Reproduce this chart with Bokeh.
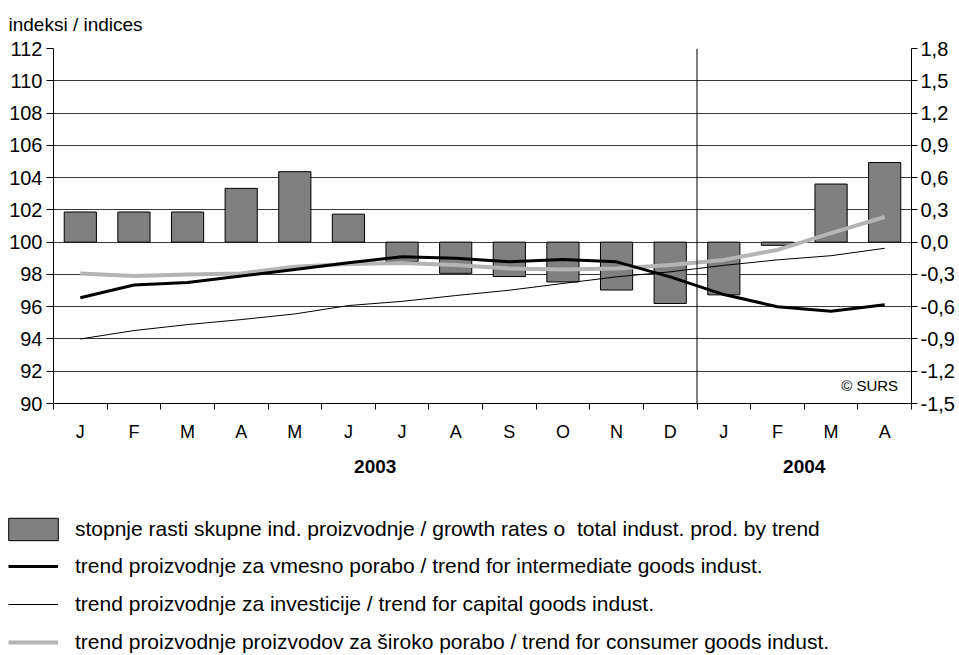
from bokeh.plotting import figure
from bokeh.layouts import column
from bokeh.models import (Range1d, LinearAxis, FixedTicker, Span, Label, Legend,
                          LegendItem, CustomJSTickFormatter)
from bokeh.embed import file_html
from bokeh.resources import INLINE

months = ["J", "F", "M", "A", "M", "J", "J", "A", "S", "O", "N", "D", "J", "F", "M", "A"]
years = ["2003", "2004"]
months_per_year = [12, 4]

growth = [0.28, 0.28, 0.28, 0.50, 0.655, 0.26, -0.18, -0.29, -0.32, -0.37, -0.445, -0.57,
          -0.49, -0.03, 0.54, 0.74]
intermediate = [96.55, 97.34, 97.5, 97.9, 98.31, 98.72, 99.1, 99.0, 98.78, 98.92, 98.78, 97.85,
                96.75, 96.0, 95.72, 96.12]
capital = [94.0, 94.52, 94.89, 95.2, 95.55, 96.07, 96.33, 96.69, 97.02, 97.44, 97.85, 98.16,
           98.56, 98.9, 99.16, 99.62]
consumer = [98.06, 97.9, 98.0, 98.06, 98.47, 98.65, 98.7, 98.58, 98.37, 98.31, 98.37, 98.58,
            98.9, 99.52, 100.56, 101.56]

left_ticks = [90, 92, 94, 96, 98, 100, 102, 104, 106, 108, 110, 112]
right_ticks = [-1.5, -1.2, -0.9, -0.6, -0.3, 0.0, 0.3, 0.6, 0.9, 1.2, 1.5, 1.8]

label_bar = "stopnje rasti skupne ind. proizvodnje / growth rates o  total indust. prod. by trend"
label_int = "trend proizvodnje za vmesno porabo / trend for intermediate goods indust."
label_cap = "trend proizvodnje za investicije / trend for capital goods indust."
label_con = "trend proizvodnje proizvodov za široko porabo / trend for consumer goods indust."

FONT = "Liberation Sans"
BAR_STYLE = dict(fill_color="#808080", line_color="black", line_width=1)
INT_STYLE = dict(line_color="black", line_width=3)
CAP_STYLE = dict(line_color="black", line_width=1)
CON_STYLE = dict(line_color="#b4b4b4", line_width=4)

n = len(months)
xc = [i + 0.5 for i in range(n)]
bounds = list(range(n + 1))

p = figure(width=959, height=485, x_range=Range1d(0, n), y_range=Range1d(90, 112),
           output_backend="svg", toolbar_location=None,
           min_border_left=53, min_border_right=48, min_border_top=48, min_border_bottom=82)
p.extra_y_ranges = {"r": Range1d(-1.5, 1.8)}
p.outline_line_color = None

# title
p.title.text = "indeksi / indices"
p.title.text_font = FONT
p.title.text_font_size = "19px"
p.title.text_font_style = "normal"
p.title.text_color = "black"
p.title.align = "left"
p.title.offset = -45
p.title.vertical_align = "top"
p.title.standoff = 23

# left axis
ya = p.yaxis[0]
ya.ticker = FixedTicker(ticks=left_ticks)
ya.major_label_text_font = FONT
ya.major_label_text_font_size = "20px"
ya.major_label_text_color = "black"
ya.major_tick_out = 7
ya.major_tick_in = 0
ya.minor_tick_out = 0
ya.minor_tick_in = 0
ya.major_label_standoff = 4
ya.axis_line_color = "black"
ya.major_tick_line_color = "black"

p.ygrid.ticker = FixedTicker(ticks=left_ticks)
p.ygrid.grid_line_color = "#3a3a3a"
p.ygrid.grid_line_width = 1
p.xgrid.grid_line_color = None

# right axis
ra = LinearAxis(y_range_name="r", ticker=FixedTicker(ticks=right_ticks),
                formatter=CustomJSTickFormatter(code="return tick.toFixed(1).replace('.', ',');"))
ra.major_label_text_font = FONT
ra.major_label_text_font_size = "20px"
ra.major_label_text_color = "black"
ra.major_tick_out = 6
ra.major_tick_in = 0
ra.minor_tick_out = 0
ra.minor_tick_in = 0
ra.major_label_standoff = 3
ra.axis_line_color = "black"
p.add_layout(ra, "right")

# bottom axis: month labels at centres, ticks at boundaries
xa = p.xaxis[0]
xa.ticker = FixedTicker(ticks=xc, minor_ticks=bounds)
xa.formatter = CustomJSTickFormatter(args=dict(m=months), code="return m[Math.floor(tick)];")
xa.major_tick_out = 0
xa.major_tick_in = 0
xa.minor_tick_out = 6
xa.minor_tick_in = 0
xa.major_label_standoff = 12
xa.major_label_text_font = FONT
xa.major_label_text_font_size = "18px"
xa.major_label_text_color = "black"
xa.axis_line_color = "black"
xa.minor_tick_line_color = "black"

# year axis
year_pos = []
start = 0
for cnt in months_per_year:
    year_pos.append(start + cnt / 2)
    start += cnt
yr = LinearAxis(ticker=FixedTicker(ticks=year_pos, minor_ticks=[]),
                formatter=CustomJSTickFormatter(args=dict(pos=year_pos, lab=years),
                                                code="return lab[pos.indexOf(tick)];"))
yr.axis_line_color = None
yr.major_tick_out = 0
yr.major_tick_in = 0
yr.minor_tick_out = 0
yr.minor_tick_in = 0
yr.major_label_standoff = 15
yr.major_label_text_font = FONT
yr.major_label_text_font_size = "19px"
yr.major_label_text_font_style = "bold"
yr.major_label_text_color = "black"
p.add_layout(yr, "below")

# separator between years
p.add_layout(Span(location=months_per_year[0], dimension="height", line_color="black", line_width=1))

# bars and lines
p.vbar(x=xc, top=growth, bottom=0, width=0.6, y_range_name="r", **BAR_STYLE)
p.line(xc, consumer, **CON_STYLE)
p.line(xc, intermediate, **INT_STYLE)
p.line(xc, capital, **CAP_STYLE)

p.add_layout(Label(x=15.75, y=91.1, text="© SURS", text_align="right", text_baseline="middle",
                   text_font=FONT, text_font_size="15px", text_color="black"))

# legend panel: same series drawn outside its visible range, only the legend shows
p2 = figure(width=959, height=170, x_range=Range1d(0, n), y_range=Range1d(1000, 1001),
            output_backend="svg", toolbar_location=None,
            x_axis_location=None, y_axis_location=None,
            min_border_left=0, min_border_right=0, min_border_top=0, min_border_bottom=0)
p2.grid.visible = False
p2.outline_line_color = None
for fig in (p, p2):
    if "frame_align" in fig.properties():
        fig.frame_align = False
k_bar = p2.vbar(x=xc, top=growth, bottom=0, width=0.6, **BAR_STYLE)
k_int = p2.line(xc, intermediate, **INT_STYLE)
k_cap = p2.line(xc, capital, **CAP_STYLE)
k_con = p2.line(xc, consumer, **CON_STYLE)

leg1 = Legend(items=[LegendItem(label=label_bar, renderers=[k_bar])],
              location=(2, 112), glyph_width=62, glyph_height=28, label_height=28,
              label_standoff=11, padding=0, margin=0, spacing=0,
              border_line_color=None, background_fill_alpha=0,
              label_text_font=FONT, label_text_font_size="21px", label_text_color="black")
leg2 = Legend(items=[LegendItem(label=label_int, renderers=[k_int]),
                     LegendItem(label=label_cap, renderers=[k_cap]),
                     LegendItem(label=label_con, renderers=[k_con])],
              location=(8, 1), glyph_width=50, glyph_height=24, label_height=24,
              label_standoff=17, padding=0, margin=0, spacing=14,
              border_line_color=None, background_fill_alpha=0,
              label_text_font=FONT, label_text_font_size="21px", label_text_color="black")
p2.add_layout(leg1)
p2.add_layout(leg2)

layout = column(p, p2, spacing=0)
open("out.html", "w").write(file_html(layout, INLINE))
